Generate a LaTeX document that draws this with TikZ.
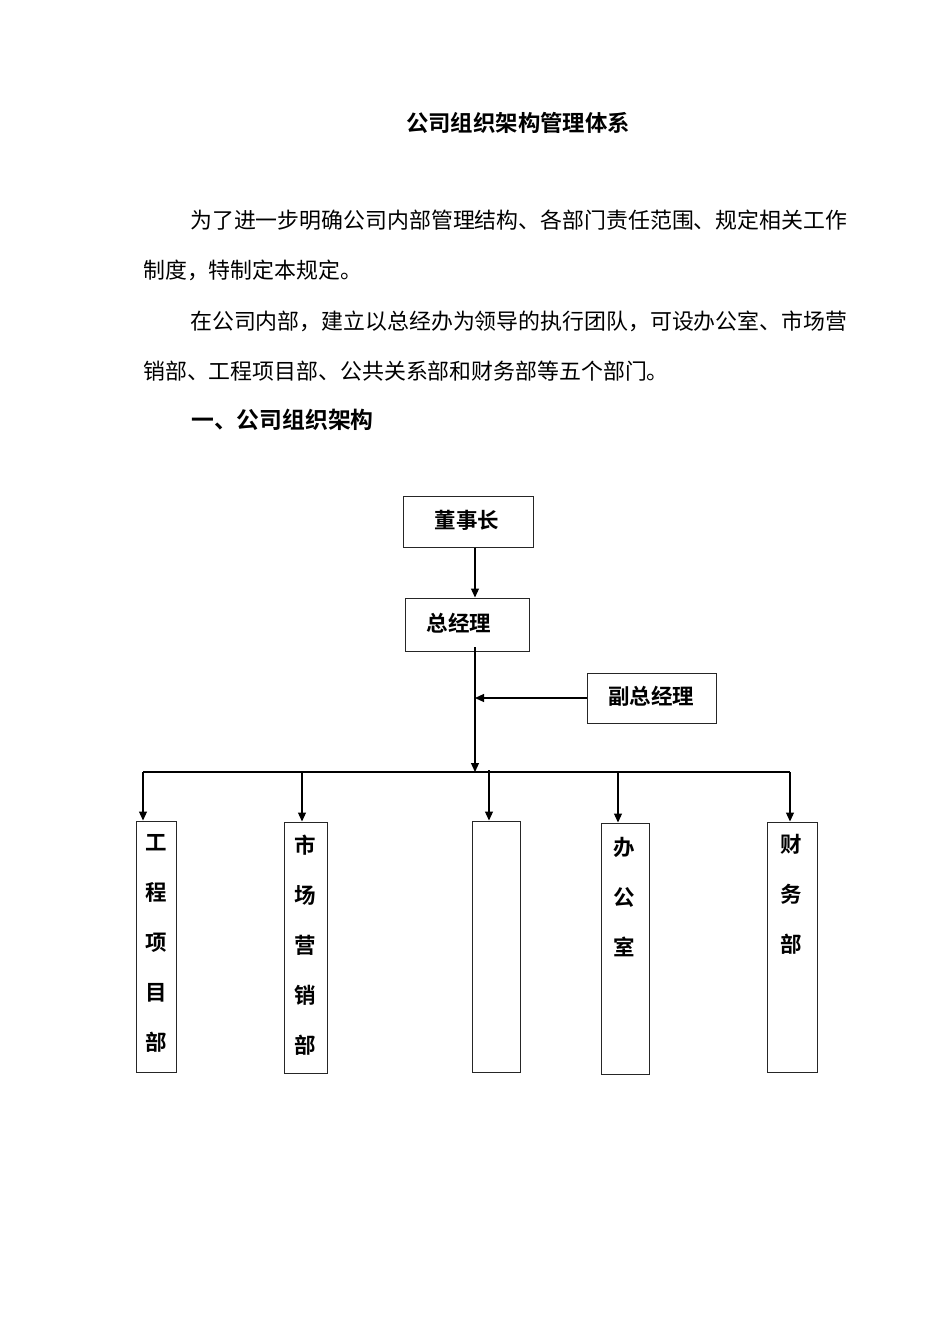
\documentclass[tikz,border=0pt]{standalone}
\usepackage{fontspec}
\newfontfamily\cjk{Noto Sans CJK SC}
\newfontfamily\cjkb{Noto Sans CJK SC Bold}
\usetikzlibrary{arrows.meta}
\tikzset{
  body/.style={font=\cjk\fontsize{21.9}{26}\selectfont, inner sep=0pt, anchor=west},
  headb/.style={font=\cjkb\fontsize{22.4}{26}\selectfont, inner sep=0pt},
  box/.style={draw=black!85, line width=1pt, inner sep=0pt},
  boxtext/.style={font=\cjkb\fontsize{21.5}{26}\selectfont, inner sep=0pt},
  vtext/.style={font=\cjkb\fontsize{21.5}{50}\selectfont, inner sep=0pt, align=center},
  arr/.style={line width=1.2pt, -{Triangle[length=9pt,width=8pt]}},
  ln/.style={line width=1.2pt}
}
\begin{document}
\begin{tikzpicture}[x=1pt,y=-1pt]
\useasboundingbox[fill=white] (0,0) rectangle (950,1344);
% texts
\node[headb] (title) at (518,123) {公司组织架构管理体系};
\node[body] (p1a) at (190,220) {为了进一步明确公司内部管理结构、各部门责任范围、规定相关工作};
\node[body] (p1b) at (143,270) {制度，特制定本规定。};
\node[body] (p2a) at (190,321) {在公司内部，建立以总经办为领导的执行团队，可设办公室、市场营};
\node[body] (p2b) at (143,371) {销部、工程项目部、公共关系部和财务部等五个部门。};
\node[headb, anchor=west, font=\cjkb\fontsize{22.8}{26}\selectfont] (sec) at (191,420) {一、公司组织架构};
% top boxes
\node[box, minimum width=130pt, minimum height=51pt] (dsz) at (468,521.5) {};
\node[boxtext] (dszt) at (467,520) {董事长};
\node[box, minimum width=124pt, minimum height=53pt] (zjl) at (467,624.5) {};
\node[boxtext] (zjlt) at (459,623) {总经理};
\node[box, minimum width=129pt, minimum height=50pt] (fzjl) at (651.5,698) {};
\node[boxtext] (fzjlt) at (651,696) {副总经理};
% coordinates
\coordinate (mx) at (475,647);
\coordinate (bus) at (475,772);
\coordinate (d1) at (143,772);
\coordinate (d2) at (302,772);
\coordinate (d3) at (489,770);
\coordinate (d4) at (618,772);
\coordinate (d5) at (790,772);
% department boxes
\node[box, minimum width=40pt, minimum height=251pt] (gc) at (156,946.5) {};
\node[vtext] (gct) at (156,943) {工\\程\\项\\目\\部};
\node[box, minimum width=43pt, minimum height=251pt] (sc) at (305.5,947.5) {};
\node[vtext] (sct) at (305,945) {市\\场\\营\\销\\部};
\node[box, minimum width=48pt, minimum height=251pt] (gg) at (496,946.5) {};
\node[box, minimum width=48pt, minimum height=251pt] (bg) at (625,948.5) {};
\node[vtext] (bgt) at (624,897) {办\\公\\室};
\node[box, minimum width=50pt, minimum height=250pt] (cw) at (792,947) {};
\node[vtext] (cwt) at (791,894) {财\\务\\部};
% connectors
\draw[arr] (dsz.south -| mx) -- (zjl.north -| mx);
\draw[arr] (mx) -- (bus);
\draw[arr] (fzjl.west) -- (fzjl.west -| mx);
\draw[ln] (d1) -- (d5);
\draw[arr] (d1) -- (d1 |- gc.north);
\draw[arr] (d2) -- (d2 |- sc.north);
\draw[arr] (d3) -- (d3 |- gg.north);
\draw[arr] (d4) -- (d4 |- bg.north);
\draw[arr] (d5) -- (d5 |- cw.north);
\end{tikzpicture}
\end{document}
